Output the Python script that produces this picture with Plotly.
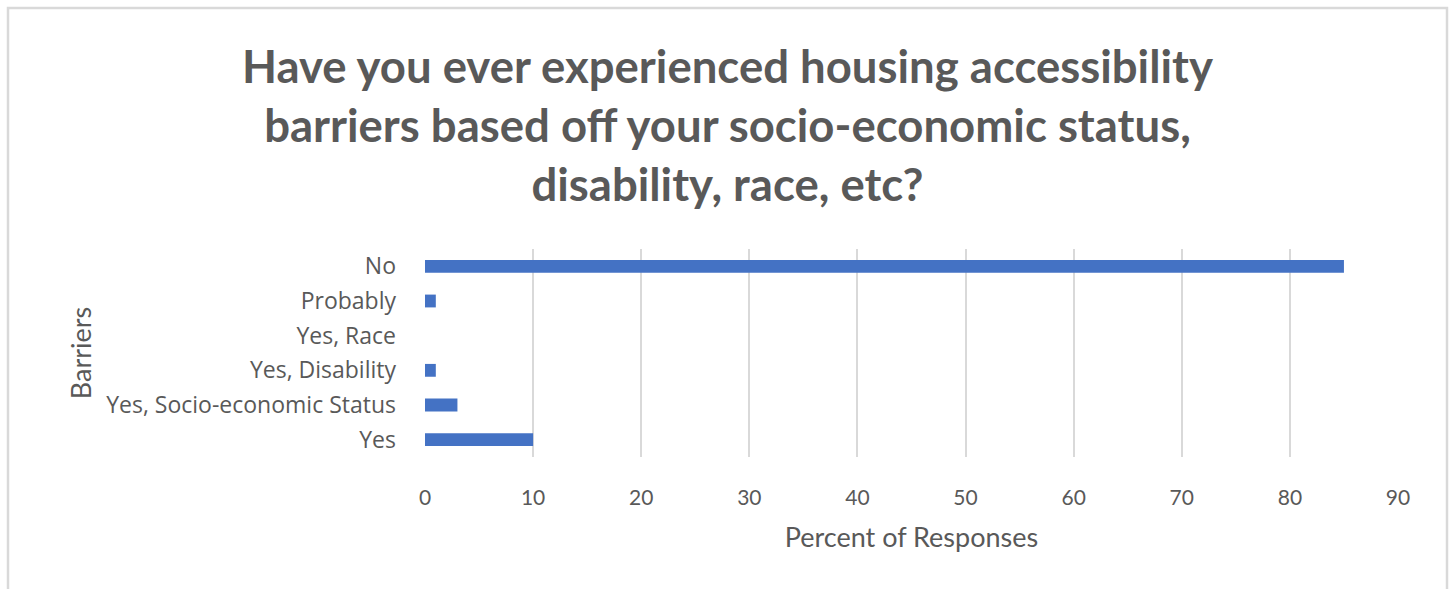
import plotly.graph_objects as go

categories = ["Yes", "Yes, Socio-economic Status", "Yes, Disability", "Yes, Race", "Probably", "No"]
values = [10, 3, 1, 0, 1, 85]
tick_vals = [0, 10, 20, 30, 40, 50, 60, 70, 80, 90]

title_text = ("Have you ever experienced housing accessibility<br>"
              "barriers based off your socio-economic status,<br>"
              "disability, race, etc?")

W, H = 1455, 589
L, R, T, B = 425, 57, 249, 132
pw, ph = W - L - R, H - T - B

def px_x(x):
    return (x - L) / pw

def px_y(y):
    return (H - B - y) / ph

fig = go.Figure(go.Bar(
    x=values, y=categories, orientation="h",
    marker=dict(color="#4472C4", line=dict(width=0)),
))

txt = "#595959"
fig.update_layout(
    width=W, height=H,
    margin=dict(l=L, r=R, t=T, b=B),
    paper_bgcolor="white", plot_bgcolor="white",
    bargap=0.63,
    showlegend=False,
    font=dict(family="Lato, Open Sans, sans-serif", color=txt),
    xaxis=dict(
        range=[0, 90], tickvals=tick_vals, showgrid=True, gridcolor="#d9d9d9",
        gridwidth=1.5, zeroline=False, showline=False,
        tickfont=dict(size=21, color=txt), ticklabelstandoff=26,
        title=dict(text="Percent of Responses", font=dict(size=27, color=txt), standoff=20),
        fixedrange=True,
    ),
    yaxis=dict(
        showgrid=False, zeroline=False, showline=False,
        tickfont=dict(size=23, color=txt, family="Open Sans, sans-serif"), ticklabelstandoff=28,
        title=dict(text="Barriers", font=dict(size=27, color=txt), standoff=6),
        categoryorder="array", categoryarray=categories,
    ),
    annotations=[dict(
        text="<b>" + title_text + "</b>", xref="paper", yref="paper",
        x=px_x(727), y=px_y(125), xanchor="center", yanchor="middle",
        showarrow=False, align="center",
        font=dict(size=45.5, color=txt, family="Lato, Open Sans, sans-serif"),
    )],
    shapes=[dict(
        type="rect", xref="paper", yref="paper",
        x0=px_x(8), x1=px_x(1447), y0=px_y(640), y1=px_y(8),
        line=dict(color="#d9d9d9", width=2.5), fillcolor="rgba(0,0,0,0)", layer="below",
    )],
)

fig.write_html("out.html")
